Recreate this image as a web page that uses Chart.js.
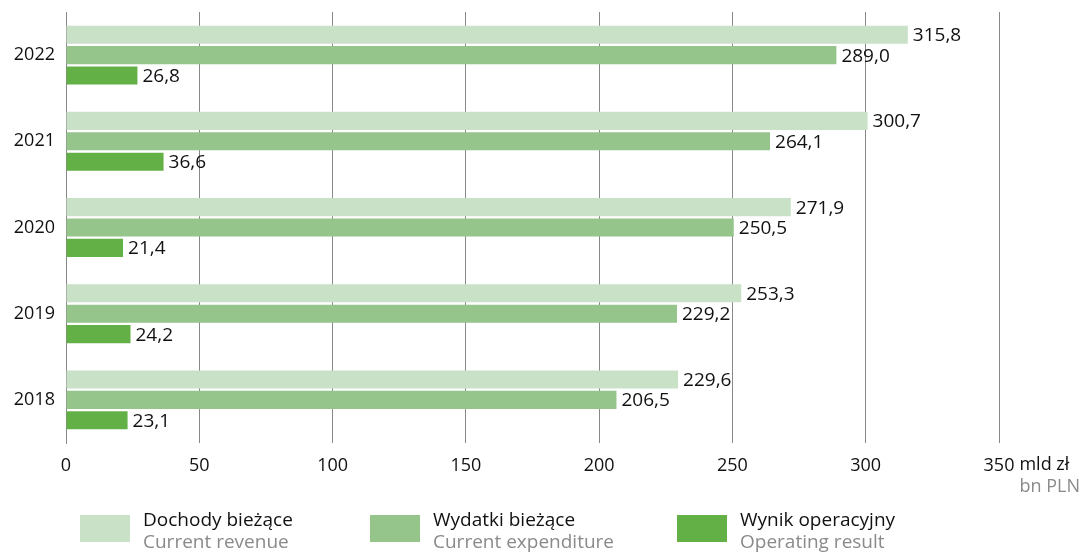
<!DOCTYPE html>
<html>
<head>
<meta charset="utf-8">
<script src="https://cdn.jsdelivr.net/npm/chart.js@4"></script>
<style>
html,body{margin:0;padding:0;background:#fff;}
#wrap{position:relative;width:1083px;height:552px;}
</style>
</head>
<body>
<div id="wrap"><canvas id="c" width="1083" height="552"></canvas></div>
<script>
const years = ['2022','2021','2020','2019','2018'];
const revenue = [315.8, 300.7, 271.9, 253.3, 229.6];
const expenditure = [289.0, 264.1, 250.5, 229.2, 206.5];
const operating = [26.8, 36.6, 21.4, 24.2, 23.1];
const xTicks = [0, 50, 100, 150, 200, 250, 300, 350];
const seriesNames = ['Dochody bieżące', 'Wydatki bieżące', 'Wynik operacyjny'];
const seriesNamesEn = ['Current revenue', 'Current expenditure', 'Operating result'];
const unitPl = 'mld zł';
const unitEn = 'bn PLN';

const colors = ['#c9e1c7', '#95c58a', '#63b047'];
const FONT = '"Open Sans", "Noto Sans", sans-serif';
const fmt = v => v.toFixed(1).replace('.', ',');

const valueLabels = {
  id: 'valueLabels',
  afterDatasetsDraw(chart) {
    const ctx = chart.ctx;
    ctx.save();
    ctx.font = '19px ' + FONT;
    ctx.fillStyle = '#111';
    ctx.textAlign = 'left';
    ctx.textBaseline = 'middle';
    chart.data.datasets.forEach((ds, i) => {
      chart.getDatasetMeta(i).data.forEach((bar, j) => {
        ctx.fillText(fmt(ds.data[j]), bar.x + 5, bar.y + 1);
      });
    });
    ctx.restore();
  }
};

const extras = {
  id: 'extras',
  afterDraw(chart) {
    const ctx = chart.ctx;
    const xs = chart.scales.x;
    ctx.save();
    const last = xTicks[xTicks.length - 1];
    const px = xs.getPixelForValue(last);
    ctx.font = '18px ' + FONT;
    const w = ctx.measureText(String(last)).width;
    const ty = xs.top + 22;
    ctx.fillStyle = '#111';
    ctx.textAlign = 'left';
    ctx.textBaseline = 'middle';
    ctx.fillText(unitPl, px + w / 2 + 5, ty);
    ctx.fillStyle = '#8a8a8a';
    ctx.textAlign = 'right';
    ctx.fillText(unitEn, 1080, ty + 22);
    const lx = [80, 370, 677];
    ctx.font = '19px ' + FONT;
    chart.data.datasets.forEach((ds, i) => {
      ctx.fillStyle = ds.backgroundColor;
      ctx.fillRect(lx[i], 515, 50, 27);
      ctx.textAlign = 'left';
      ctx.textBaseline = 'alphabetic';
      ctx.fillStyle = '#111';
      ctx.fillText(seriesNames[i], lx[i] + 63, 526);
      ctx.fillStyle = '#8a8a8a';
      ctx.fillText(seriesNamesEn[i], lx[i] + 63, 548);
    });
    ctx.restore();
  }
};

new Chart(document.getElementById('c'), {
  type: 'bar',
  data: {
    labels: years,
    datasets: [
      { label: seriesNames[0], data: revenue, backgroundColor: colors[0] },
      { label: seriesNames[1], data: expenditure, backgroundColor: colors[1] },
      { label: seriesNames[2], data: operating, backgroundColor: colors[2] }
    ]
  },
  options: {
    indexAxis: 'y',
    responsive: false,
    animation: false,
    events: [],
    categoryPercentage: 0.71,
    barPercentage: 0.885,
    layout: { padding: { top: 12, right: 84, bottom: 0, left: 0 } },
    plugins: { legend: { display: false }, tooltip: { enabled: false } },
    scales: {
      x: {
        min: 0, max: 350,
        afterFit(s) { s.height = 109; s.paddingLeft = 0; s.paddingRight = 0; },
        afterBuildTicks(s) { s.ticks = xTicks.map(v => ({ value: v })); },
        grid: { color: '#888', lineWidth: 1, drawTicks: false },
        border: { display: false },
        ticks: { color: '#111', font: { family: FONT, size: 18 }, padding: 12, maxRotation: 0 }
      },
      y: {
        afterFit(s) { s.width = 66; s.paddingTop = 0; s.paddingBottom = 0; },
        grid: { display: false, drawTicks: false },
        border: { display: true, color: '#888', width: 1 },
        ticks: { color: '#111', font: { family: FONT, size: 18 }, padding: 11 }
      }
    }
  },
  plugins: [valueLabels, extras]
});
</script>
</body>
</html>
